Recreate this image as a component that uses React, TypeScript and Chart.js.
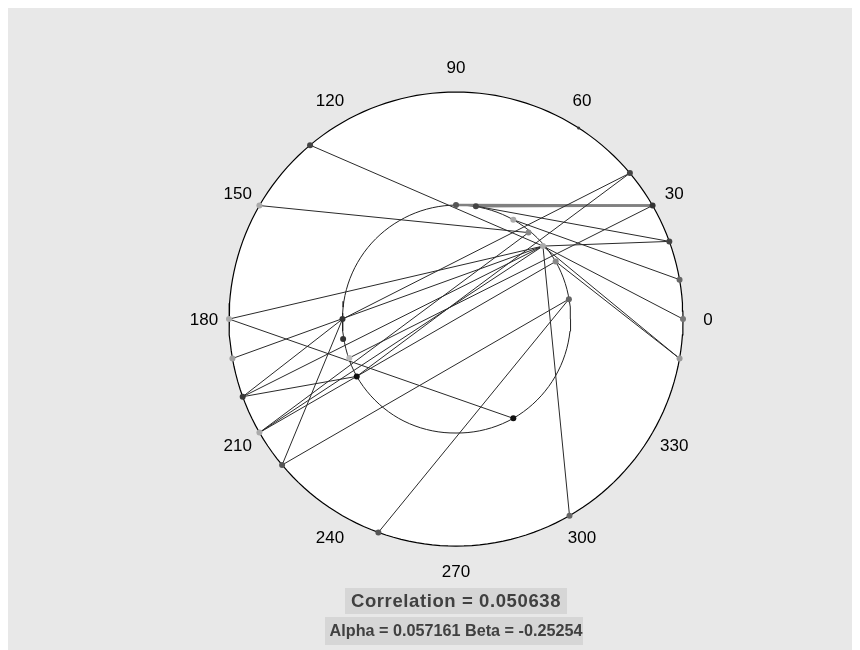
import { useEffect, useRef } from "react";
import { Chart, registerables } from "chart.js";
Chart.register(...registerables);

const angleTicks = [0, 30, 60, 90, 120, 150, 180, 210, 240, 270, 300, 330];

const outerAngles = [130, 150, 180, 190, 200, 210, 220, 250, 300, 350, 0, 10, 20, 30, 40];
const outerShades = ["#444", "#aaa", "#aaa", "#a0a0a0", "#3a3a3a", "#aaa", "#555", "#555", "#666", "#999", "#777", "#666", "#444", "#333", "#444"];

const innerAngles = [90, 80, 60, 50, 40, 30, 10, 300, 210, 200, 190, 180];
const innerRadii = [0.502, 0.505, 0.505, 0.497, 0.5, 0.507, 0.505, 0.505, 0.505, 0.5, 0.505, 0.5];
const innerShades = ["#555", "#444", "#aaa", "#888", "#aaa", "#888", "#666", "#111", "#111", "#bbb", "#333", "#333"];

// pairs: outer angle -> inner angle
const linkOuter = [130, 150, 180, 180, 190, 200, 200, 200, 210, 210, 210, 220, 220, 250, 300, 350, 350, 0, 10, 20, 20, 30, 40, 40];
const linkInner = [40, 50, 300, 40, 40, 210, 180, 40, 40, 30, 50, 180, 10, 10, 40, 40, 30, 40, 60, 40, 80, 200, 210, 180];
// pairs drawn as the grey overlapping line
const greyOuter = [30, 30];
const greyInner = [90, 80];

const curveAngles = [0, 30, 60, 90, 120, 150, 180, 210, 240, 270, 300, 330];
const curveRadii = [0.505, 0.507, 0.505, 0.502, 0.5, 0.5, 0.5, 0.505, 0.505, 0.502, 0.505, 0.505];

const correlationText = "Correlation = 0.050638";
const regressionText = "Alpha = 0.057161 Beta = -0.25254";

const rad = (d: number) => (d * Math.PI) / 180;
const polar = (deg: number, r: number) => ({ x: r * Math.cos(rad(deg)), y: r * Math.sin(rad(deg)) });
const innerPoint = (a: number) => polar(a, innerRadii[innerAngles.indexOf(a)]);

export default function App() {
  const ref = useRef<HTMLCanvasElement | null>(null);
  useEffect(() => {
    if (!ref.current) return;
    const circle = [] as { x: number; y: number }[];
    for (let a = 0; a <= 360; a += 2) circle.push(polar(a, 1));
    const inner = [] as { x: number; y: number }[];
    for (let a = 0; a <= 360; a += 3) {
      const i = Math.floor(a / 30) % curveAngles.length;
      const j = (i + 1) % curveAngles.length;
      const t = (a % 30) / 30;
      const r = curveRadii[i] * (1 - t) + curveRadii[j] * t;
      inner.push(polar(a, r));
    }
    const links = linkOuter.map((o, k) => ({
      type: "scatter" as const,
      data: [polar(o, 1), innerPoint(linkInner[k])],
      showLine: true,
      borderColor: "#2a2a2a",
      borderWidth: 1,
      pointRadius: 0,
      order: 3,
    }));
    const greyLinks = greyOuter.map((o, k) => ({
      type: "scatter" as const,
      data: [polar(o, 1), innerPoint(greyInner[k])],
      showLine: true,
      borderColor: "#808080",
      borderWidth: 2.5,
      pointRadius: 0,
      order: 4,
    }));
    const chart = new Chart(ref.current, {
      type: "scatter",
      data: {
        datasets: [
          {
            data: circle,
            showLine: true,
            fill: "shape",
            backgroundColor: "#ffffff",
            borderColor: "#000",
            borderWidth: 1.2,
            pointRadius: 0,
            order: 10,
          } as any,
          {
            data: inner,
            showLine: true,
            borderColor: "#222",
            borderWidth: 1,
            pointRadius: 0,
            order: 5,
          },
          ...greyLinks,
          ...links,
          {
            data: outerAngles.map((a) => polar(a, 1)),
            showLine: false,
            pointRadius: 3,
            pointBackgroundColor: outerShades,
            pointBorderColor: outerShades,
            pointBorderWidth: 0,
            order: 1,
          },
          {
            data: [polar(57.3, 1)],
            showLine: false,
            pointRadius: 1.5,
            pointBackgroundColor: "#333",
            pointBorderWidth: 0,
            order: 1,
          },
          {
            data: innerAngles.map((a, i) => polar(a, innerRadii[i])),
            showLine: false,
            pointRadius: 3,
            pointBackgroundColor: innerShades,
            pointBorderColor: innerShades,
            pointBorderWidth: 0,
            order: 1,
          },
        ],
      },
      options: {
        animation: false,
        responsive: false,
        events: [],
        layout: { padding: { left: 107.5, right: 55.5, top: 4.55, bottom: 24.45 } },
        scales: {
          x: { type: "linear", min: -1.5, max: 1.5, display: false },
          y: { type: "linear", min: -1.35, max: 1.35, display: false },
        },
        plugins: { legend: { display: false }, tooltip: { enabled: false } },
      },
      plugins: [
        {
          id: "bg",
          beforeDraw(c) {
            const ctx = c.ctx;
            ctx.save();
            ctx.fillStyle = "#e8e8e8";
            ctx.fillRect(0, 0, c.width, c.height);
            ctx.restore();
          },
          afterDraw(c) {
            const ctx = c.ctx as any;
            const xs = c.scales.x;
            const ys = c.scales.y;
            ctx.save();
            ctx.fillStyle = "#000";
            ctx.font = '17px "Liberation Sans", Arial, sans-serif';
            ctx.textAlign = "center";
            ctx.textBaseline = "middle";
            for (const a of angleTicks) {
              const p = polar(a, 1.11);
              ctx.fillText(String(a), xs.getPixelForValue(p.x), ys.getPixelForValue(p.y) + 1);
            }
            const cx = xs.getPixelForValue(0);
            const rows = [correlationText, regressionText];
            const sizes = [18.5, 16.2];
            const spacing = ["0.6px", "0px"];
            const boxes = [
              [337, 222, 580, 26],
              [317, 258, 609, 28],
            ];
            const ysPix = [594, 624];
            rows.forEach((t, i) => {
              const b = boxes[i];
              ctx.fillStyle = "#d6d6d6";
              ctx.fillRect(b[0], b[2], b[1], b[3]);
              ctx.font = `bold ${sizes[i]}px "Liberation Sans", Arial, sans-serif`;
              ctx.letterSpacing = spacing[i];
              ctx.fillStyle = "#404040";
              ctx.fillText(t, cx, ysPix[i]);
            });
            ctx.restore();
          },
        },
      ],
    });
    return () => chart.destroy();
  }, []);
  return (
    <div style={{ width: 844, height: 642 }}>
      <canvas ref={ref} width={844} height={642} style={{ display: "block" }} />
    </div>
  );
}
